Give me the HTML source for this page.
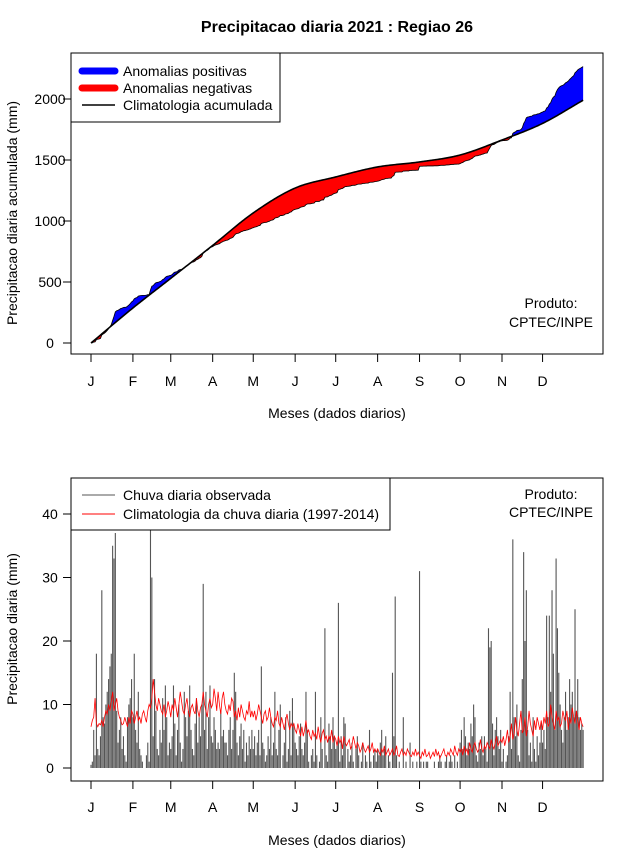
<!DOCTYPE html>
<html><head><meta charset="utf-8">
<style>
body{margin:0;background:#fff;}
svg text{font-family:"Liberation Sans",Arial,sans-serif;}
</style></head>
<body>
<svg id="c" width="640" height="850" xmlns="http://www.w3.org/2000/svg">
<text x="337" y="32" text-anchor="middle" font-size="16" font-weight="bold">Precipitacao diaria 2021 : Regiao 26</text>
</svg>
<script>
const months = ["J","F","M","A","M","J","J","A","S","O","N","D"];
const monthStartDays = [1,32,60,91,121,152,182,213,244,274,305,335];
const climAccDays = [1,32,60,91,121,152,182,213,244,274,305,335,365];
const climAccValues = [0,287,530,800,1066,1270,1361,1443,1484,1541,1664,1800,1990];
const topTicks = [0,500,1000,1500,2000];
const bottomTicks = [0,10,20,30,40];
const obsRain = [
0.5,1,6,2,18,3,2,5,28,8,7,10,12,14,16,18,35,33,37,9,4,6,8,3,5,2,1,8,10,11,14,
8,18,6,4,12,3,2,1,0,0,2,4,1,38,30,5,14,9,3,2,6,4,11,6,13,8,2,4,
3,5,13,7,2,6,10,4,1,3,12,8,5,9,13,6,3,2,7,11,4,8,5,10,29,6,12,3,8,13,5,
4,8,6,3,4,3,9,5,6,4,4,2,6,8,3,6,15,12,4,2,5,7,3,6,1,4,2,5,3,6,
3,5,2,4,6,2,16,4,3,1,2,5,3,8,2,4,12,3,2,6,10,0,2,4,8,1,3,9,2,11,7,
4,3,2,5,7,3,2,4,12,6,1,0,2,3,1,12,2,0,1,8,3,0,22,2,1,7,5,3,8,5,
3,4,26,1,5,2,8,7,0,3,1,2,4,1,0,3,5,2,0,1,4,0,2,1,0,6,1,0,2,3,1,
3,2,4,6,2,3,5,0,2,1,0,15,5,27,2,0,1,0,0,8,0,1,0,0,4,0,1,0,0,1,0,
31,1,0,1,0,1,1,0,0,0,0,1,0,0,1,2,1,0,0,1,2,0,1,2,1,0,2,0,1,0,
4,6,3,8,5,2,4,3,7,5,10,8,2,1,4,3,5,2,5,3,1,22,19,20,7,2,6,8,5,3,6,
1,3,0,1,2,5,12,3,36,8,5,10,2,1,6,14,34,20,28,6,2,4,1,8,3,1,5,2,4,7,
4,6,3,24,8,24,12,28,18,6,33,22,15,10,6,4,8,12,6,8,14,10,12,8,25,9,14,8,6,7,6];
const climRain = [
6.5,7.5,8,11,7,6.5,7,6.8,7.5,6.5,8,9,8.5,10,9,10.5,12,9,10,11,9,8,7.5,6.8,7,8,7.2,6.5,8,7,9,
8.5,7,8,9,7.5,8,7,8.5,9,8,7.2,9,10,9.5,11,14,12,10,9,11,10,9,8.5,10,8,9,10.5,9.5,
8,10,9,11,9.5,8,10,12,10.5,9,8.5,10,11,9,8,9.5,10,9,8.5,11,9,8,9.5,10,12,10,9,8,10,11,9.5,
10,12.5,11,9,12,10,8.5,11,12,10,9,8.5,10,9,11,10.5,8,9,7.5,9.5,8,10,9,8,7.5,9,8.5,10.5,8,9,
8,9,7.5,8.5,10,9,8,7,8.5,9,7.5,8,9.5,8,7,6.5,8,7.5,9,7,6.5,8,7,6,7.5,8.5,7,6,7,6.5,7,
6,5.5,7,6,5,6.5,5,6,7.5,5.5,6,5,4.5,6,5,5.5,4.5,6.5,5,4,5.5,6,4.5,5,4,5,4.5,6,4,5,
4.5,3.5,5,4,4.5,3,5,4,3.5,4,4.5,3,3.5,5,4,3,4,3.5,2.5,3,4,3,2.5,3,3.5,2.5,3,4,2.5,3,2.5,
3,2.5,2,3,2.5,3.5,2,2.5,3,2,2.5,3,2,2.5,3.5,2,1.8,2.5,3,2,2.5,2,3,2.5,2,1.8,2.5,2,3,2,2.5,
2,1.5,2.5,2,3,1.8,2,2.5,1.5,2,2.5,1.8,3,2,2.5,1.5,2,2.5,3,2,1.8,2.5,2,3,2.5,2,3.5,2.5,2,3,
2.5,3,2,3.5,2.5,3,2,4,3,2.5,3.5,4,3,2.5,3,4.5,3,2.5,3.5,3,4,3.5,3,4.5,3.5,3,4,5,3.5,4,4.5,
4,5,3.5,4.5,6,4,5,7,4.5,5.5,8,6,5,7,9,5.5,6,8,5,6.5,9,7,6,5,7.5,6,8,7,6,7.5,
6,8,7,9,6.5,7,10,8,7,6,9,7.5,8,6.5,7,9,8,7.5,9,6,8,7,9.5,8,7,9,7.5,6,8,7,6.5];

const svg = document.getElementById('c');
const NS = 'http://www.w3.org/2000/svg';
function mk(tag, attrs, parent){const e=document.createElementNS(NS,tag);for(const k in attrs)e.setAttribute(k,attrs[k]);(parent||svg).appendChild(e);return e;}
const xDay = d => 91 + (d-1)*1.352;
const yTop = v => 343 - v*0.122;
const yBot = v => 768 - v*6.35;

const obsAcc=[];
let so=0;
for(let i=0;i<obsRain.length;i++){so+=obsRain[i];obsAcc.push(so);}
// smooth (monotone cubic) geometry through the accumulated climatology points
function climAt(d){
  const X=climAccDays, Y=climAccValues, n=X.length;
  let k=0; while(k<n-2 && d>X[k+1]) k++;
  const slope=j=>{ if(j<=0) return (Y[1]-Y[0])/(X[1]-X[0]); if(j>=n-1) return (Y[n-1]-Y[n-2])/(X[n-1]-X[n-2]);
    return ((Y[j+1]-Y[j])/(X[j+1]-X[j])+(Y[j]-Y[j-1])/(X[j]-X[j-1]))/2; };
  const h=X[k+1]-X[k], t=Math.min(1,Math.max(0,(d-X[k])/h));
  const m0=slope(k)*h, m1=slope(k+1)*h;
  const t2=t*t,t3=t2*t;
  return (2*t3-3*t2+1)*Y[k]+(t3-2*t2+t)*m0+(-2*t3+3*t2)*Y[k+1]+(t3-t2)*m1;
}

const gT = mk('g',{});


let hi='', lo='', climBack='';
for(let i=0;i<obsAcc.length;i++){
  const x=xDay(i+1), c=climAt(i+1);
  hi += (i?'L':'M')+x.toFixed(2)+','+yTop(Math.max(obsAcc[i],c)).toFixed(2);
  lo += (i?'L':'M')+x.toFixed(2)+','+yTop(Math.min(obsAcc[i],c)).toFixed(2);
}
for(let i=obsAcc.length-1;i>=0;i--) climBack+='L'+xDay(i+1).toFixed(2)+','+yTop(climAt(i+1)).toFixed(2);
const pos = mk('path',{d:hi+climBack+'Z',fill:'#0000ff',stroke:'none'},gT);


const neg = mk('path',{d:lo+climBack+'Z',fill:'#ff0000',stroke:'none'},gT);


let od='', cd='';
for(let i=0;i<obsAcc.length;i++) od+=(i?'L':'M')+xDay(i+1).toFixed(2)+','+yTop(obsAcc[i]).toFixed(2);
for(let i=0;i<obsAcc.length;i++) cd+=(i?'L':'M')+xDay(i+1).toFixed(2)+','+yTop(climAt(i+1)).toFixed(2);
const ol=mk('path',{d:od,fill:'none',stroke:'#000','stroke-width':0.8},gT);


const cl=mk('path',{d:cd,fill:'none',stroke:'#000','stroke-width':1.6},gT);


const bt=mk('rect',{x:71,y:53,width:532,height:301,fill:'none',stroke:'#000','stroke-width':1},gT);


topTicks.forEach(v=>{
  const y=yTop(v);
  mk('line',{x1:63,x2:71,y1:y,y2:y,stroke:'#000'},gT);
  const t=mk('text',{x:50,y:y+5,'text-anchor':'middle','font-size':14},gT);t.textContent=v;
  
  
});
months.forEach((m,i)=>{
  const x=xDay(monthStartDays[i]);
  mk('line',{x1:x,x2:x,y1:354,y2:362,stroke:'#000'},gT);
  const t=mk('text',{x:x,y:386,'text-anchor':'middle','font-size':14},gT);t.textContent=m;
  
  
});
</script>
<svg style="position:absolute;left:0;top:0" width="640" height="850">
<text transform="translate(17,213) rotate(-90)" text-anchor="middle" font-size="14">Precipitacao diaria acumulada (mm)</text>
<text x="337" y="418" text-anchor="middle" font-size="14">Meses (dados diarios)</text>
<text x="551" y="308" text-anchor="middle" font-size="14">Produto:</text>
<text x="551" y="327" text-anchor="middle" font-size="14">CPTEC/INPE</text>
<g>
<rect x="71" y="53" width="209" height="69" fill="#fff" stroke="#000"/>
<line x1="82" x2="115" y1="71" y2="71" stroke="#0000ff" stroke-width="7" stroke-linecap="round"/>
<line x1="82" x2="115" y1="88" y2="88" stroke="#ff0000" stroke-width="7" stroke-linecap="round"/>
<line x1="82" x2="115" y1="105" y2="105" stroke="#000" stroke-width="1.5"/>
<text x="123" y="76" font-size="14">Anomalias positivas</text>
<text x="123" y="93" font-size="14">Anomalias negativas</text>
<text x="123" y="110" font-size="14">Climatologia acumulada</text>
</g>
<text transform="translate(17,629) rotate(-90)" text-anchor="middle" font-size="14">Precipitacao diaria (mm)</text>
<text x="337" y="845" text-anchor="middle" font-size="14">Meses (dados diarios)</text>
<text x="551" y="499" text-anchor="middle" font-size="14">Produto:</text>
<text x="551" y="517" text-anchor="middle" font-size="14">CPTEC/INPE</text>
</svg>
<script>
const gB = mk('g',{});


obsRain.forEach((v,i)=>{
  const x=xDay(i+1);
  const b=mk('line',{x1:x,x2:x,y1:yBot(0),y2:yBot(v),stroke:'#555','stroke-width':1.1},gB);
  
  
});
let rd='';
climRain.forEach((v,i)=>{rd+=(i?'L':'M')+xDay(i+1).toFixed(2)+','+yBot(v).toFixed(2);});
const rl=mk('path',{d:rd,fill:'none',stroke:'#ff0000','stroke-width':0.8},gB);


const bb=mk('rect',{x:71,y:478,width:532,height:303,fill:'none',stroke:'#000'},gB);


bottomTicks.forEach(v=>{
  const y=yBot(v);
  mk('line',{x1:63,x2:71,y1:y,y2:y,stroke:'#000'},gB);
  const t=mk('text',{x:50,y:y+5,'text-anchor':'middle','font-size':14},gB);t.textContent=v;
  
  
});
months.forEach((m,i)=>{
  const x=xDay(monthStartDays[i]);
  mk('line',{x1:x,x2:x,y1:781,y2:789,stroke:'#000'},gB);
  const t=mk('text',{x:x,y:812,'text-anchor':'middle','font-size':14},gB);t.textContent=m;
  
  
});
const lg=mk('g',{},gB);


mk('rect',{x:71,y:478,width:319,height:52,fill:'#fff',stroke:'#000'},lg);
mk('line',{x1:82,x2:115,y1:495,y2:495,stroke:'#555'},lg);
mk('line',{x1:82,x2:115,y1:514,y2:514,stroke:'#ff0000'},lg);
const l1=mk('text',{x:123,y:500,'font-size':14},lg);l1.textContent='Chuva diaria observada';
const l2=mk('text',{x:123,y:519,'font-size':14},lg);l2.textContent='Climatologia da chuva diaria (1997-2014)';
</script>
</body></html>
